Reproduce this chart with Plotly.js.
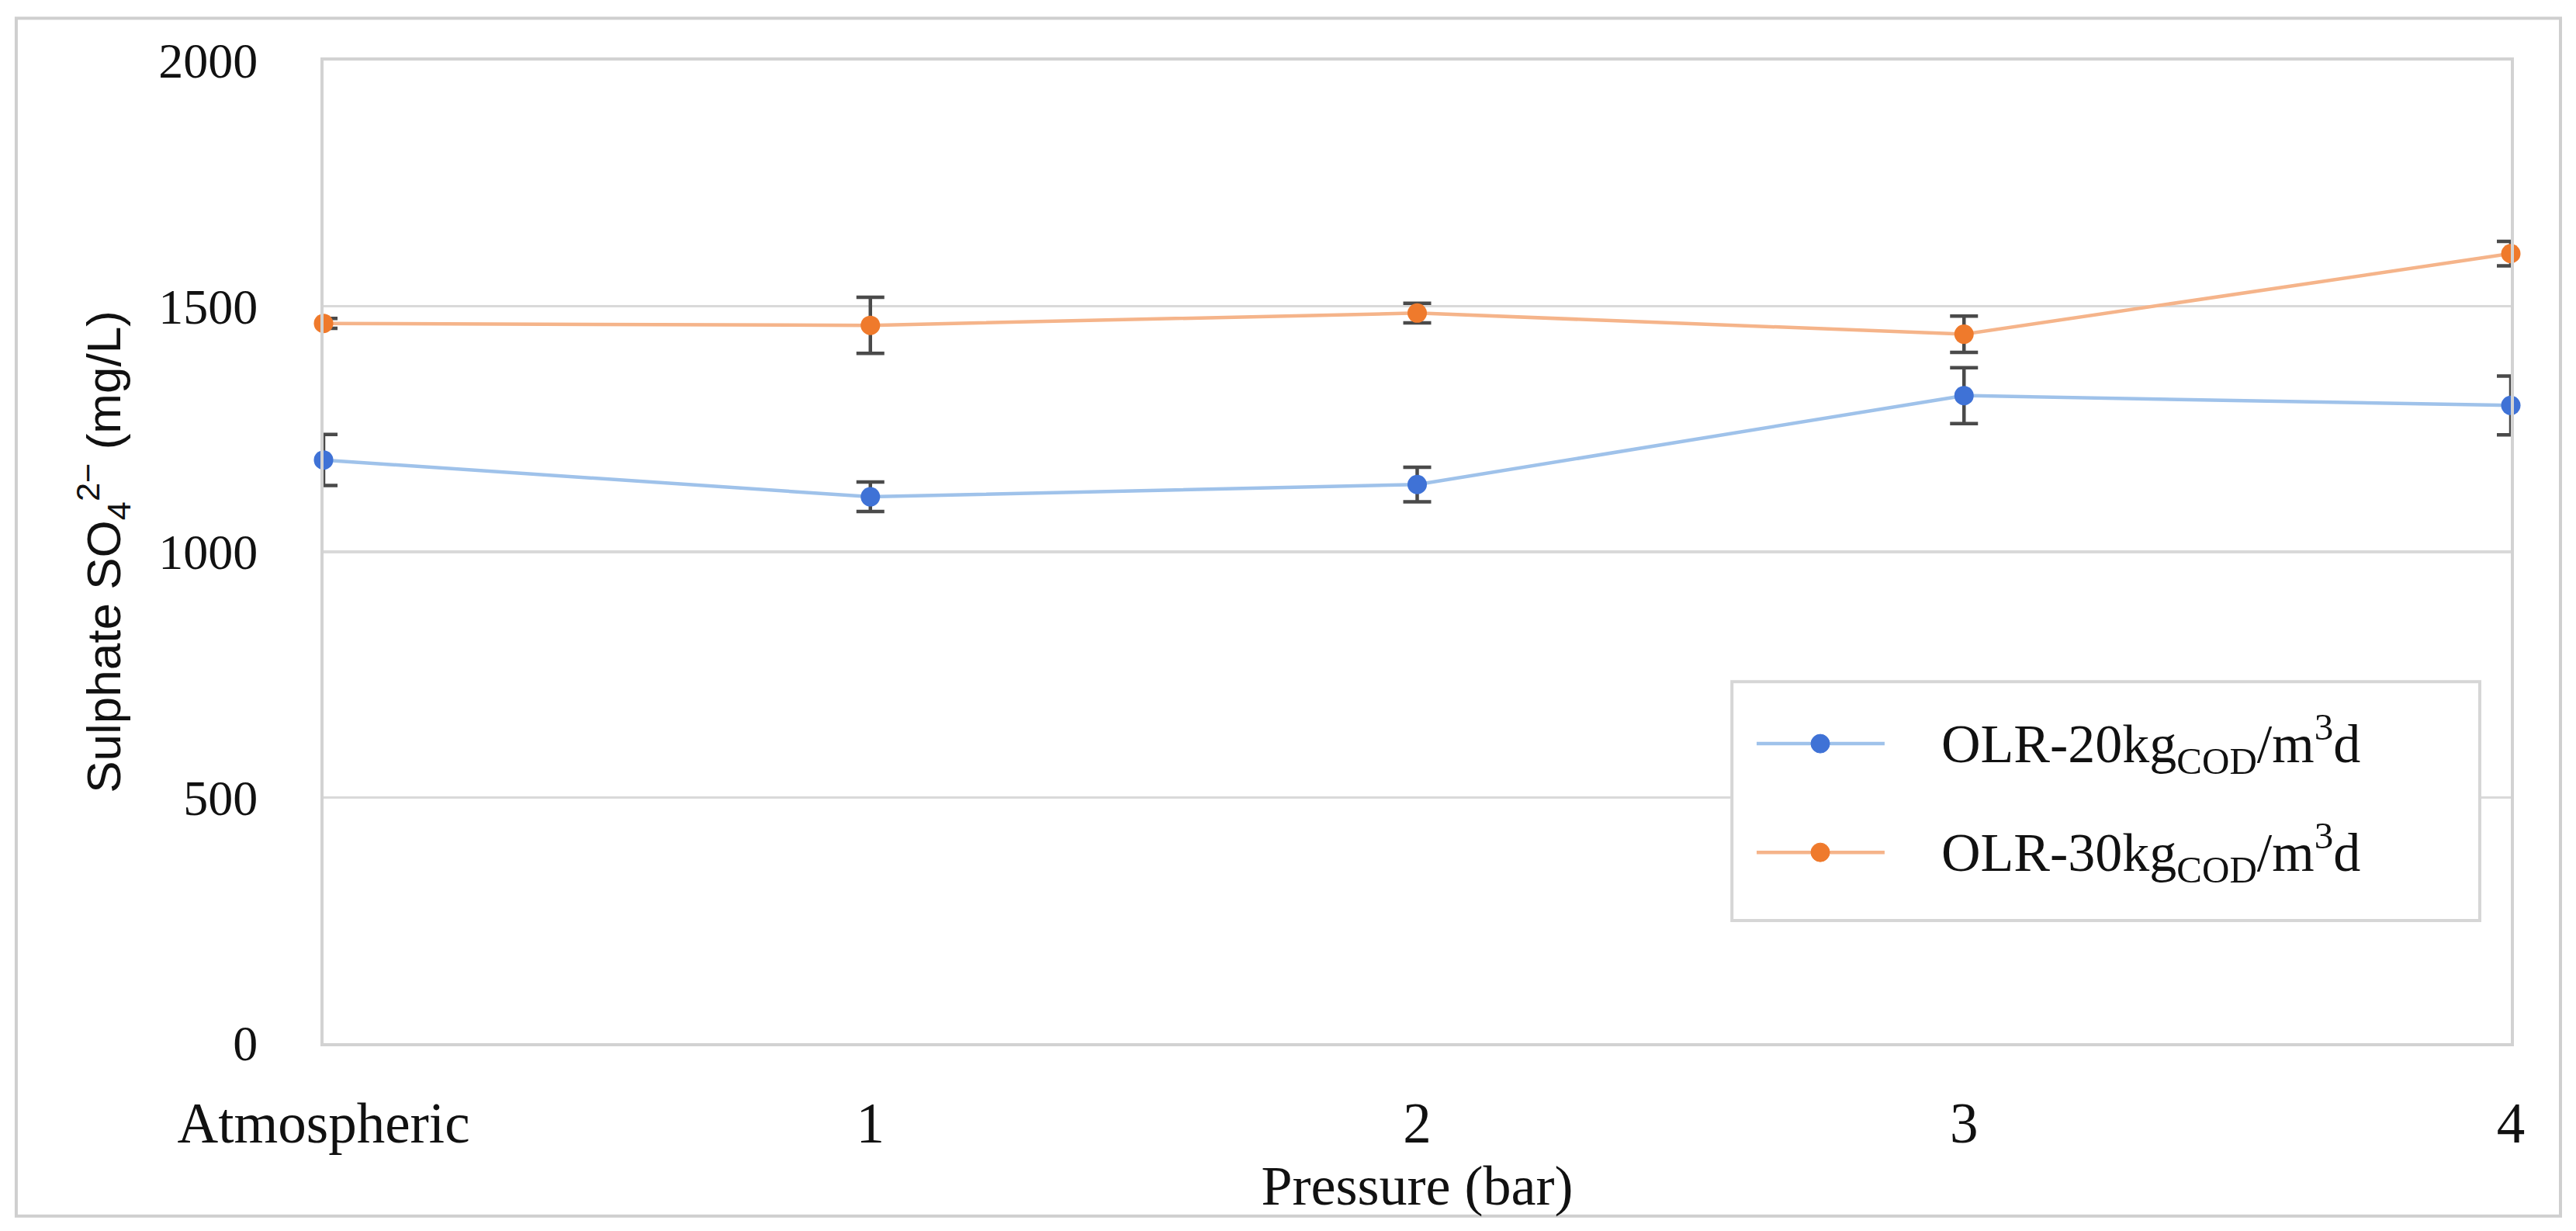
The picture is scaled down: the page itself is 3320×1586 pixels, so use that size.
<!DOCTYPE html>
<html>
<head>
<meta charset="utf-8">
<script src="https://cdn.plot.ly/plotly-3.0.1.min.js"></script>
<style>html,body{margin:0;padding:0;background:#fff;}#chart{width:3320px;height:1586px;}</style>
</head>
<body>
<div id="chart"></div>
<script>
// ---- data ----
const categories = ["Atmospheric", "1", "2", "3", "4"];
const olr20 = [1187, 1112, 1137, 1318, 1298];
const olr20Err = [52, 30, 35, 57, 60];
const olr30 = [1465, 1461, 1486, 1443, 1607];
const olr30Err = [10, 57, 20, 37, 25];
const seriesNames = ["OLR-20kg<sub>COD</sub>/m<sup>3</sup>d", "OLR-30kg<sub>COD</sub>/m<sup>3</sup>d"];
const yTicks = [0, 500, 1000, 1500, 2000];

const SERIF = "Liberation Serif, Times New Roman, serif";
const SANS = "Liberation Sans, Arial, sans-serif";
const blueMarker = "#3f72d6", blueLine = "#9fc2ea";
const orangeMarker = "#ef7a2c", orangeLine = "#f5b48a";
const errColor = "#4a4a4a";
const TXT = "#111";

function series(y, err, name, lc, mc) {
  return {
    type: "scatter", mode: "lines+markers", x: categories, y: y, name: name,
    line: {color: lc, width: 4.5},
    marker: {color: mc, size: 25},
    error_y: {type: "data", array: err, visible: true, color: errColor, thickness: 4.5, width: 18},
    cliponaxis: false, showlegend: false
  };
}
const traces = [
  series(olr20, olr20Err, seriesNames[0], blueLine, blueMarker),
  series(olr30, olr30Err, seriesNames[1], orangeLine, orangeMarker)
];

// manual legend geometry (paper fractions)
const lg = {x0: 0.6439, x1: 0.9858, y0: 0.1248, y1: 0.3679};
const itemY = [0.3048, 0.1942];
const sampleX = [0.6552, 0.7137], markX = 0.6843, textX = 0.7389;
const legendColors = [[blueLine, blueMarker], [orangeLine, orangeMarker]];

const shapes = [
  {type: "rect", xref: "paper", yref: "paper", x0: -0.1405, x1: 1.0227, y0: -0.176, y1: 1.043,
   line: {color: "#cfcfcf", width: 4}, fillcolor: "rgba(0,0,0,0)", layer: "below"},
  {type: "rect", xref: "paper", yref: "paper", x0: lg.x0, x1: lg.x1, y0: lg.y0, y1: lg.y1,
   line: {color: "#d6d6d6", width: 4}, fillcolor: "#ffffff", layer: "above"}
];
const annotations = [];
seriesNames.forEach((n, i) => {
  shapes.push({type: "line", xref: "paper", yref: "paper", x0: sampleX[0], x1: sampleX[1], y0: itemY[i], y1: itemY[i],
    line: {color: legendColors[i][0], width: 4.5}, layer: "above"});
  shapes.push({type: "circle", xref: "paper", yref: "paper", xsizemode: "pixel", ysizemode: "pixel",
    xanchor: markX, yanchor: itemY[i], x0: -12, x1: 12, y0: -12, y1: 12,
    fillcolor: legendColors[i][1], line: {color: legendColors[i][1], width: 1}, layer: "above"});
  annotations.push({xref: "paper", yref: "paper", x: textX, y: itemY[i], xanchor: "left", yanchor: "middle",
    text: n, showarrow: false, font: {family: SERIF, size: 70, color: TXT}});
});

const layout = {
  width: 3320, height: 1586,
  margin: {l: 417, r: 84, t: 78, b: 242},
  paper_bgcolor: "#ffffff", plot_bgcolor: "#ffffff",
  font: {family: SERIF, size: 64, color: TXT},
  showlegend: false,
  xaxis: {
    type: "category", categoryorder: "array", categoryarray: categories,
    range: [0, 4], showgrid: false, zeroline: false,
    showline: true, mirror: true, linecolor: "#d2d2d2", linewidth: 4,
    ticks: "", ticklabelstandoff: 36,
    tickfont: {family: SERIF, size: 73, color: TXT},
    title: {text: "Pressure (bar)", font: {family: SERIF, size: 72, color: TXT}, standoff: 0}
  },
  yaxis: {
    range: [0, 2000], tickvals: yTicks, ticktext: yTicks.map(String),
    showgrid: true, gridcolor: "#d9d9d9", gridwidth: 3.5, zeroline: false,
    showline: true, mirror: true, linecolor: "#d2d2d2", linewidth: 4,
    ticks: "", ticklabelstandoff: 68,
    tickfont: {family: SERIF, size: 64, color: TXT},
    title: {text: "Sulphate SO<sub>4</sub><sup>2−</sup> (mg/L)", font: {family: SANS, size: 62, color: TXT}, standoff: 30}
  },
  shapes: shapes,
  annotations: annotations
};

Plotly.newPlot("chart", traces, layout, {displayModeBar: false, staticPlot: true});
</script>
</body>
</html>
